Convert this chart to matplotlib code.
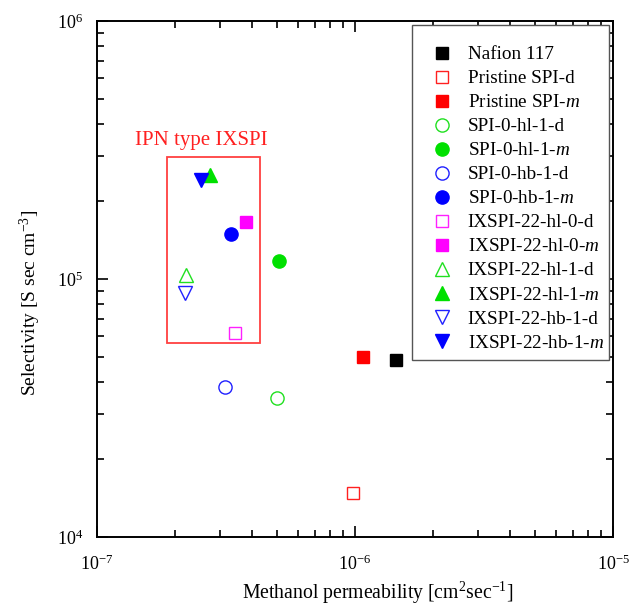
import matplotlib
matplotlib.use("Agg")
import matplotlib.pyplot as plt
from matplotlib.patches import Rectangle
from matplotlib.ticker import LogLocator, NullFormatter

plt.rcParams['font.family'] = ['Liberation Serif', 'DejaVu Serif']
plt.rcParams['mathtext.fontset'] = 'custom'
plt.rcParams['mathtext.rm'] = 'Liberation Serif'
plt.rcParams['mathtext.it'] = 'Liberation Serif:italic'
plt.rcParams['mathtext.bf'] = 'Liberation Serif:bold'

# Data: methanol permeability [cm^2/s], selectivity [S s cm^-3]
labels = ["Nafion 117", "Pristine SPI-d", "Pristine SPI-$m$",
          "SPI-0-hl-1-d", "SPI-0-hl-1-$m$", "SPI-0-hb-1-d", "SPI-0-hb-1-$m$",
          "IXSPI-22-hl-0-d", "IXSPI-22-hl-0-$m$", "IXSPI-22-hl-1-d",
          "IXSPI-22-hl-1-$m$", "IXSPI-22-hb-1-d", "IXSPI-22-hb-1-$m$"]
permeability = [1.44e-6, 9.8e-7, 1.07e-6,
                4.98e-7, 5.08e-7, 3.13e-7, 3.31e-7,
                3.43e-7, 3.78e-7, 2.21e-7,
                2.74e-7, 2.19e-7, 2.53e-7]
selectivity = [4.85e4, 1.48e4, 4.97e4,
               3.46e4, 1.17e5, 3.81e4, 1.49e5,
               6.18e4, 1.66e5, 1.04e5,
               2.53e5, 8.83e4, 2.42e5]
markers = ['s', 's', 's', 'o', 'o', 'o', 'o', 's', 's', '^', '^', 'v', 'v']
colors = ['#000000', '#ff2020', '#ff0000', '#20e020', '#00e000', '#2020ff', '#0000ff',
          '#ff20ff', '#ff00ff', '#20e020', '#00e000', '#2020ff', '#0000ff']
filled = [True, False, True, False, True, False, True, False, True, False, True, False, True]
sizes = [8, 8, 8, 9.5, 9.5, 9.5, 9.5, 8, 8, 10, 10, 10, 10]

# IPN region box (data coordinates)
box_x = [1.87e-7, 4.28e-7]
box_y = [5.65e4, 2.97e5]
box_label = "IPN type IXSPI"

fig = plt.figure(figsize=(6.29, 6.06), dpi=100)
ax = fig.add_axes([0.1542, 0.1139, 0.8204, 0.8514])
ax.set_xscale('log')
ax.set_yscale('log')

for xv, yv, m, c, f, s, lab in zip(permeability, selectivity, markers, colors, filled, sizes, labels):
    ax.plot([xv], [yv], linestyle='none', marker=m, markersize=s,
            markerfacecolor=c if f else 'none', markeredgecolor=c,
            markeredgewidth=1.0, label=lab, zorder=3)

ax.add_patch(Rectangle((box_x[0], box_y[0]), box_x[1] - box_x[0], box_y[1] - box_y[0],
                       fill=False, edgecolor='#ff4040', linewidth=1.3))
ax.text(2.53e-7, 3.31e5, box_label, color='#ff2020', fontsize=15,
        ha='center', va='baseline')

ax.set_xlim(1e-7, 1e-5)
ax.set_ylim(1e4, 1e6)
ax.set_xlabel("Methanol permeability [cm$^2$sec$^{-1}$]", fontsize=14.2)
ax.set_ylabel("Selectivity [S sec cm$^{-3}$]", fontsize=14)
ax.xaxis.set_label_coords(0.5446, -0.083)
ax.yaxis.set_label_coords(-0.104, 0.4535)

for axis in (ax.xaxis, ax.yaxis):
    axis.set_major_locator(LogLocator(base=10, numticks=10))
    axis.set_minor_locator(LogLocator(base=10, subs=range(2, 10), numticks=10))
    axis.set_minor_formatter(NullFormatter())
ax.tick_params(which='both', direction='in', top=True, right=True, labelsize=13, width=1.2)
ax.tick_params(which='major', length=8)
ax.tick_params(axis='x', which='major', pad=13)
ax.tick_params(axis='y', which='major', pad=10)
ax.tick_params(which='minor', length=5)
for sp in ax.spines.values():
    sp.set_linewidth(1.4)

# legend frame drawn separately (asymmetric padding in the reference)
ax.add_patch(Rectangle((0.6105, 0.343), 0.9922 - 0.6105, 0.9922 - 0.343,
                       transform=ax.transAxes, facecolor='white', edgecolor='#555555',
                       linewidth=1.0, zorder=4))
leg = ax.legend(loc='upper left', bbox_to_anchor=(0.6314, 0.952), fontsize=13.8,
                frameon=False, labelspacing=0.345, handletextpad=0.35, borderpad=0,
                handlelength=2.0, borderaxespad=0)
leg.set_zorder(5)

fig.savefig("out.png", dpi=100)
